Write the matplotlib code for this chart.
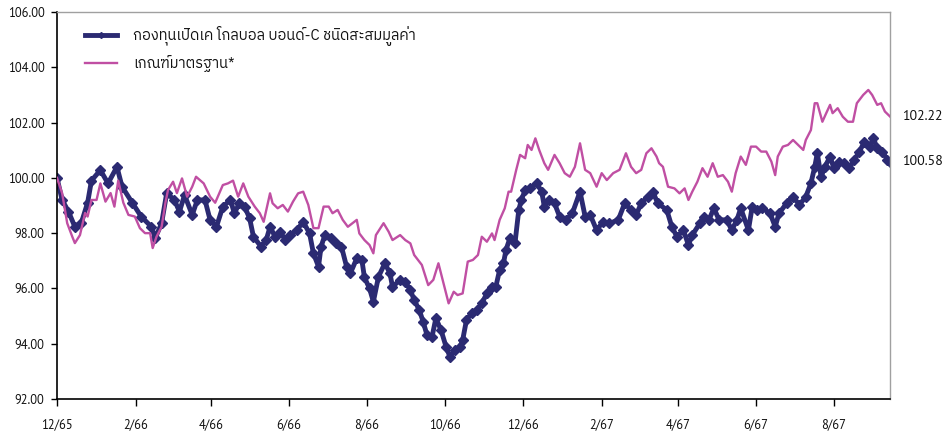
import pandas as pd
import matplotlib
matplotlib.use("Agg")
import matplotlib.pyplot as plt

plt.rcParams['font.family'] = ['PT Sans', 'Open Sans', 'DejaVu Sans']
thai_font = ['IBM Plex Sans Thai', 'Noto Sans Thai', 'Sarabun', 'DejaVu Sans']

start = pd.Timestamp('2022-12-01')

fund_name = 'กองทุนเปิดเค โกลบอล บอนด์-C ชนิดสะสมมูลค่า'
bench_name = 'เกณฑ์มาตรฐาน*'

# days after 1 Dec 2022
fund_days = [0, 4, 9, 14, 19, 24, 27, 34, 40, 47, 51, 59, 66, 74, 77, 82, 86, 92, 96, 100,
             106, 110, 116, 120, 125, 130, 136, 139, 143, 147, 151, 154, 160, 164, 167, 171,
             175, 179, 183, 188, 193, 198, 201, 205, 207, 210, 215, 219, 223, 227, 230, 235,
             239, 241, 245, 248, 252, 257, 261, 263, 269, 273, 277, 280, 284, 287, 290, 294,
             297, 301, 305, 308, 312, 316, 318, 321, 325, 329, 333, 337, 341, 344, 347, 350,
             352, 355, 359, 362, 364, 367, 371, 376, 380, 382, 386, 390, 394, 399, 404, 410,
             414, 418, 423, 428, 433, 440, 445, 450, 454, 458, 463, 467, 471, 478, 482, 486,
             491, 495, 498, 504, 507, 511, 515, 519, 525, 529, 533, 536, 542, 545, 549, 553,
             559, 563, 566, 572, 577, 582, 587, 591, 594, 596, 599, 602, 606, 609, 613, 617,
             621, 625, 629, 633, 637, 640, 643, 647, 651, 653]
fund_vals = [100.00, 99.20, 98.78, 98.23, 98.36, 99.10, 99.90, 100.28, 99.80, 100.40, 99.68,
             99.10, 98.60, 98.23, 97.82, 98.36, 99.45, 99.20, 98.78, 99.38, 98.66, 99.20, 99.20,
             98.48, 98.23, 98.96, 99.20, 98.72, 99.08, 98.96, 98.54, 97.87, 97.51, 97.75, 98.23,
             97.87, 98.05, 97.75, 97.93, 98.11, 98.41, 97.99, 97.27, 96.79, 97.51, 97.93, 97.81,
             97.63, 97.51, 96.79, 96.55, 97.09, 97.03, 96.40, 96.00, 95.52, 96.42, 96.91, 96.55,
             96.06, 96.31, 96.24, 95.94, 95.58, 95.22, 94.80, 94.32, 94.25, 94.92, 94.50, 93.89,
             93.53, 93.77, 93.89, 94.13, 94.86, 95.10, 95.22, 95.46, 95.82, 96.06, 96.06, 96.67,
             96.91, 97.40, 97.81, 97.63, 98.84, 99.20, 99.56, 99.62, 99.80, 99.50, 98.96, 99.20,
             99.08, 98.60, 98.48, 98.72, 99.50, 98.60, 98.66, 98.11, 98.41, 98.35, 98.48, 99.08,
             98.84, 98.66, 99.08, 99.32, 99.50, 99.08, 98.84, 98.23, 97.87, 98.11, 97.57, 97.93,
             98.36, 98.60, 98.48, 98.90, 98.48, 98.48, 98.11, 98.48, 98.90, 98.11, 98.96, 98.84,
             98.90, 98.72, 98.23, 98.72, 99.08, 99.32, 99.02, 99.32, 99.80, 100.40, 100.89,
             100.04, 100.40, 100.77, 100.35, 100.59, 100.53, 100.35, 100.65, 100.95, 101.31,
             101.13, 101.43, 101.07, 100.95, 100.65, 100.58]

bench_days = [0, 4, 8, 12, 14, 18, 22, 24, 27, 31, 34, 38, 42, 45, 48, 52, 56, 61, 65, 69,
              73, 75, 78, 82, 85, 87, 91, 94, 98, 102, 106, 109, 115, 120, 124, 130, 134, 138,
              142, 146, 150, 155, 159, 162, 167, 169, 173, 177, 181, 185, 189, 193, 197, 201,
              205, 209, 213, 216, 220, 224, 228, 235, 237, 241, 245, 248, 250, 256, 260, 263,
              269, 273, 277, 280, 286, 291, 295, 299, 303, 307, 311, 314, 318, 322, 326, 330,
              333, 337, 341, 343, 347, 351, 354, 356, 360, 363, 367, 369, 372, 375, 378, 382,
              385, 390, 394, 398, 402, 406, 410, 414, 418, 423, 427, 431, 436, 441, 446, 450,
              454, 458, 462, 466, 470, 472, 475, 479, 484, 488, 492, 495, 498, 502, 506, 510,
              514, 518, 522, 526, 529, 532, 536, 540, 544, 548, 552, 556, 560, 563, 565, 569,
              573, 577, 581, 585, 587, 591, 594, 596, 600, 603, 606, 608, 612, 616, 620, 624,
              627, 632, 636, 639, 643, 646, 649, 653]
bench_vals = [100.00, 99.45, 98.36, 97.87, 97.64, 97.93, 98.73, 98.60, 99.20, 99.20, 99.80,
              99.14, 99.45, 98.96, 99.90, 99.10, 98.66, 98.60, 98.18, 98.00, 98.00, 97.46, 97.87,
              98.23, 99.10, 99.56, 99.86, 99.45, 99.98, 99.32, 99.68, 100.04, 99.80, 99.32, 99.10,
              99.74, 99.80, 99.90, 99.32, 99.80, 99.32, 98.96, 98.72, 98.41, 99.44, 99.08, 98.90,
              99.02, 98.78, 99.14, 99.44, 99.50, 99.02, 98.18, 98.18, 98.96, 98.96, 98.72, 98.84,
              98.48, 98.23, 98.48, 97.99, 97.75, 97.57, 97.27, 97.93, 98.36, 98.05, 97.75, 97.93,
              97.75, 97.63, 97.21, 96.85, 96.12, 96.31, 96.91, 96.19, 95.46, 95.88, 95.76, 95.82,
              96.97, 97.03, 97.21, 97.87, 97.69, 97.99, 97.75, 98.48, 98.90, 99.50, 99.50, 100.29,
              100.83, 100.71, 101.19, 101.01, 101.43, 101.01, 100.53, 100.29, 100.83, 100.53,
              100.17, 100.04, 100.40, 101.25, 100.29, 100.17, 99.68, 100.17, 99.92, 100.17,
              100.29, 100.89, 100.40, 100.17, 100.29, 100.89, 101.07, 100.77, 100.53, 100.40,
              99.68, 99.62, 99.44, 99.62, 99.20, 99.50, 99.86, 100.35, 100.04, 100.53, 100.04,
              100.10, 99.86, 99.50, 100.17, 100.77, 100.47, 101.13, 101.13, 100.95, 100.95,
              100.59, 100.10, 100.77, 101.13, 101.19, 101.37, 101.19, 101.01, 101.37, 101.73,
              102.70, 102.70, 102.03, 102.34, 102.64, 102.34, 102.52, 102.21, 102.03, 102.03,
              102.70, 103.00, 103.18, 103.00, 102.64, 102.70, 102.40, 102.22]

tick_dates = pd.date_range('2022-12-01', '2024-08-01', freq='2MS')
tick_labels = ['12/65', '2/66', '4/66', '6/66', '8/66', '10/66', '12/66', '2/67', '4/67', '6/67', '8/67']

fund_x = start + pd.to_timedelta(fund_days, unit='D')
bench_x = start + pd.to_timedelta(bench_days, unit='D')

fund_color = '#2b2a72'
bench_color = '#c04fa3'

fig = plt.figure(figsize=(9.5, 4.32), dpi=100)
ax = fig.add_axes([57 / 950, 1 - 399 / 432, (890 - 57) / 950, (399 - 12) / 432])

ax.plot(fund_x, fund_vals, color=fund_color, lw=3.5, marker='D', ms=5.5,
        mec=fund_color, mfc=fund_color, label=fund_name, zorder=2)
ax.plot(bench_x, bench_vals, color=bench_color, lw=1.7, label=bench_name, zorder=3)

ax.set_ylim(92, 106)
ax.set_yticks(range(92, 107, 2))
ax.set_yticklabels(['%.2f' % v for v in range(92, 107, 2)])
ax.set_xlim(start, fund_x[-1])
ax.set_xticks(tick_dates)
ax.set_xticklabels(tick_labels)

ax.tick_params(axis='y', direction='out', length=4, width=1, labelsize=9, pad=5,
               labelcolor='#111111')
ax.tick_params(axis='x', direction='out', length=5, width=1, labelsize=9, pad=9,
               labelcolor='#111111')

for s in ['top', 'right']:
    ax.spines[s].set_color('#a0a0a0')
    ax.spines[s].set_linewidth(1)
for s in ['left', 'bottom']:
    ax.spines[s].set_color('black')
    ax.spines[s].set_linewidth(1.2)

ax.annotate('%.2f' % bench_vals[-1], xy=(bench_x[-1], bench_vals[-1]), xytext=(9, 0),
            textcoords='offset points', va='center', ha='left', fontsize=10, color='#111111',
            annotation_clip=False)
ax.annotate('%.2f' % fund_vals[-1], xy=(fund_x[-1], fund_vals[-1]), xytext=(9, 0),
            textcoords='offset points', va='center', ha='left', fontsize=10, color='#111111',
            annotation_clip=False)

leg = ax.legend(loc='upper left', bbox_to_anchor=(28 / 833, 1 - 14 / 387), frameon=False,
                borderpad=0, borderaxespad=0,
                handlelength=2.2, handletextpad=1.1, labelspacing=0.6,
                prop={'family': thai_font, 'size': 10.5})
for t in leg.get_texts():
    t.set_color('#111111')
leg.legend_handles[0].set_marker('D')
leg.legend_handles[0].set_markersize(3)
leg.legend_handles[0].set_linewidth(3.5)

fig.savefig('out.png', dpi=100)
